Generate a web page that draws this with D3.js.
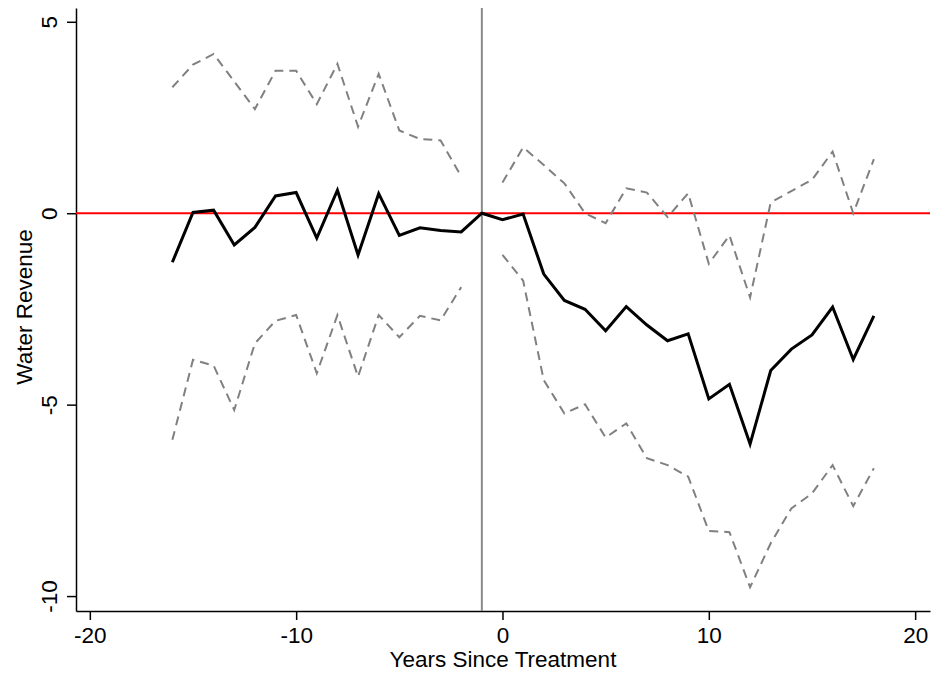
<!DOCTYPE html>
<html>
<head>
<meta charset="utf-8">
<script src="https://cdn.jsdelivr.net/npm/d3@7"></script>
<style>
  html, body { margin: 0; padding: 0; background: #fff; }
  svg text { font-family: "Liberation Sans", Arial, Helvetica, sans-serif; fill: #000; }
</style>
</head>
<body>
<svg id="chart" width="933" height="675"></svg>
<script>
// Event-study estimates: years relative to treatment
const preYears  = [-16,-15,-14,-13,-12,-11,-10,-9,-8,-7,-6,-5,-4,-3,-2];
const postYears = [0,1,2,3,4,5,6,7,8,9,10,11,12,13,14,15,16,17,18];

// Point estimates (reference year -1 normalised to 0)
const preEstimate  = [-1.28,0.02,0.08,-0.83,-0.37,0.45,0.54,-0.65,0.60,-1.09,0.51,-0.58,-0.38,-0.45,-0.49];
const refYear = -1, refValue = 0;
const postEstimate = [-0.17,-0.02,-1.59,-2.28,-2.51,-3.07,-2.44,-2.92,-3.33,-3.15,-4.85,-4.47,-6.03,-4.11,-3.55,-3.18,-2.45,-3.82,-2.68];

// 95% confidence bounds
const preUpper  = [3.29,3.88,4.16,3.44,2.72,3.72,3.72,2.85,3.90,2.26,3.64,2.16,1.94,1.90,0.96];
const preLower  = [-5.92,-3.83,-3.98,-5.14,-3.40,-2.81,-2.66,-4.18,-2.66,-4.27,-2.66,-3.24,-2.68,-2.80,-1.93];
const postUpper = [0.80,1.72,1.26,0.78,0.00,-0.26,0.65,0.54,-0.10,0.52,-1.32,-0.58,-2.20,0.28,0.58,0.87,1.61,0.00,1.41];
const postLower = [-1.09,-1.76,-4.36,-5.23,-4.99,-5.86,-5.49,-6.40,-6.58,-6.88,-8.30,-8.33,-9.77,-8.62,-7.71,-7.32,-6.58,-7.65,-6.66];

const xTicks = [-20,-10,0,10,20];
const yTicks = [5,0,-5,-10];
const xTitle = "Years Since Treatment";
const yTitle = "Water Revenue";

const svg = d3.select("#chart");
const plotLeft = 76, plotRight = 930, plotTop = 8, plotBottom = 611;
const fontSize = 22.5;

const x = d3.scaleLinear().domain([-20.67, 20.72]).range([plotLeft, plotRight]);
const y = d3.scaleLinear().domain([-10.39, 5.36]).range([plotBottom, plotTop]);

// Plain hyphen for negative numbers
const fmt = d => String(d);

// Axes
const xAxis = d3.axisBottom(x).tickValues(xTicks).tickFormat(fmt).tickSize(9).tickSizeOuter(0);
const gx = svg.append("g").attr("transform", `translate(0,${plotBottom})`).call(xAxis);
gx.attr("font-family", null).attr("font-size", null);
gx.select(".domain").attr("stroke", "#000").attr("stroke-width", 1.5);
gx.selectAll(".tick line").attr("stroke", "#000").attr("stroke-width", 1.5);
gx.selectAll(".tick text").attr("font-size", fontSize).attr("y", 32).attr("dy", 0);

const yAxis = d3.axisLeft(y).tickValues(yTicks).tickFormat(fmt).tickSize(9).tickSizeOuter(0);
const gy = svg.append("g").attr("transform", `translate(${plotLeft},0)`).call(yAxis);
gy.attr("font-family", null).attr("font-size", null);
gy.select(".domain").attr("stroke", "#000").attr("stroke-width", 1.5);
gy.selectAll(".tick line").attr("stroke", "#000").attr("stroke-width", 1.5);
gy.selectAll(".tick text")
  .attr("font-size", fontSize)
  .attr("text-anchor", "middle")
  .attr("x", 0).attr("dy", 0)
  .attr("transform", "translate(-19,0) rotate(-90)");

// Axis titles
svg.append("text")
  .attr("x", (plotLeft + plotRight) / 2).attr("y", 667)
  .attr("text-anchor", "middle").attr("font-size", fontSize)
  .text(xTitle);
svg.append("text")
  .attr("transform", "translate(32,307) rotate(-90)")
  .attr("text-anchor", "middle").attr("font-size", fontSize)
  .text(yTitle);

// Reference lines
svg.append("line")
  .attr("x1", x(refYear)).attr("x2", x(refYear))
  .attr("y1", plotTop).attr("y2", plotBottom)
  .attr("stroke", "#8a8a8a").attr("stroke-width", 2);
svg.append("line")
  .attr("x1", plotLeft).attr("x2", plotRight)
  .attr("y1", y(0)).attr("y2", y(0))
  .attr("stroke", "#ff0000").attr("stroke-width", 2);

const line = d3.line().x(d => x(d[0])).y(d => y(d[1]));
const zip = (a, b) => a.map((v, i) => [v, b[i]]);

// Confidence bounds (dashed, split around the reference year)
[zip(preYears, preUpper), zip(preYears, preLower), zip(postYears, postUpper), zip(postYears, postLower)]
  .forEach(pts => {
    svg.append("path")
      .attr("d", line(pts))
      .attr("fill", "none")
      .attr("stroke", "#808080")
      .attr("stroke-width", 2)
      .attr("stroke-dasharray", "9,6");
  });

// Point estimates (solid, continuous through the reference year)
const estYears = preYears.concat([refYear], postYears);
const estVals = preEstimate.concat([refValue], postEstimate);
svg.append("path")
  .attr("d", line(zip(estYears, estVals)))
  .attr("fill", "none")
  .attr("stroke", "#000")
  .attr("stroke-width", 3)
  .attr("stroke-linejoin", "miter");
</script>
</body>
</html>
